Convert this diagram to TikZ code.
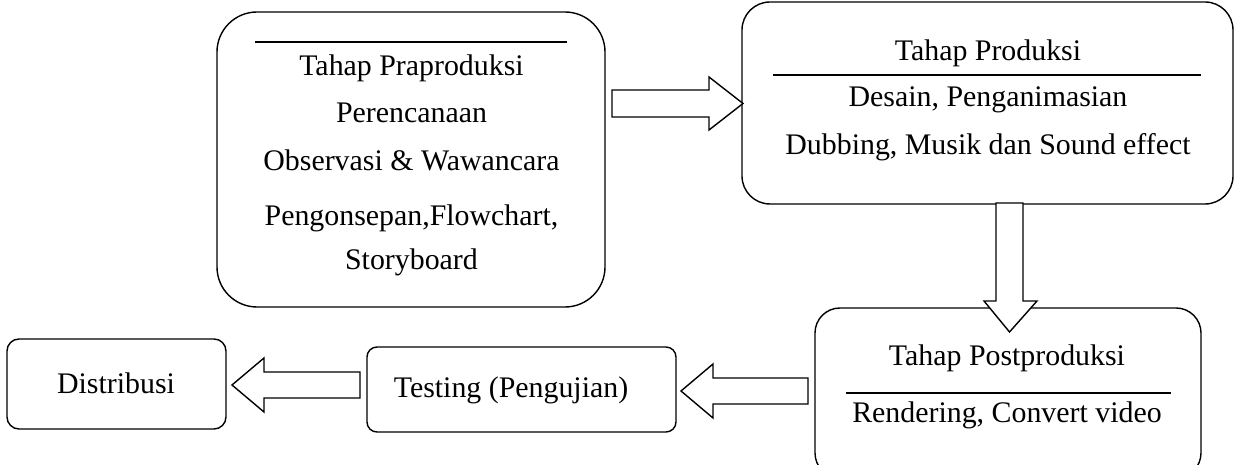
\documentclass[tikz,border=0pt]{standalone}
\usepackage{fontspec}
\setmainfont{Liberation Serif}
\begin{document}
\begin{tikzpicture}[line width=0.8pt, font=\fontsize{17}{20}\selectfont,
        box/.style = {draw, rectangle, inner sep=0pt},
        blockarrow/.style = {draw, fill=white, line join=miter}]
    \clip (0,0) rectangle (24.7,9.3);
    % boxes
    \node[box, rounded corners=0.8cm, minimum width=7.76cm, minimum height=5.9cm] (pra) at (8.22,6.11) {};
    \node[box, rounded corners=0.56cm, minimum width=9.82cm, minimum height=4.04cm] (prod) at (19.75,7.24) {};
    \node[box, rounded corners=0.5cm, minimum width=7.72cm, minimum height=3.4cm] (post) at (20.16,1.44) {};
    \node[box, rounded corners=0.2cm, minimum width=6.18cm, minimum height=1.7cm] (test) at (10.43,1.51) {};
    \node[box, rounded corners=0.24cm, minimum width=4.38cm, minimum height=1.8cm] (dist) at (2.33,1.62) {};
    % texts
    \node (pra1) at (8.23,7.94) {Tahap Praproduksi};
    \node (pra2) at (8.23,7.04) {Perencanaan};
    \node (pra3) at (8.23,6.10) {Observasi \& Wawancara};
    \node (pra4) at (8.23,4.94) {Pengonsepan,Flowchart,};
    \node (pra5) at (8.23,4.06) {Storyboard};
    \node (prod1) at (19.76,8.24) {Tahap Produksi};
    \node (prod2) at (19.76,7.30) {Desain, Penganimasian};
    \node (prod3) at (19.76,6.36) {Dubbing, Musik dan Sound effect};
    \node (post1) at (20.14,2.14) {Tahap Postproduksi};
    \node (post2) at (20.14,1.00) {Rendering, Convert video};
    \node (test1) at (10.22,1.50) {Testing (Pengujian)};
    \node (dist1) at (2.32,1.64) {Distribusi};
    % rules
    \draw (5.10,8.46) -- (11.34,8.46);
    \draw (15.46,7.80) -- (24.02,7.80);
    \draw (16.92,1.44) -- (23.42,1.44);
    % block arrows
    \draw[blockarrow] (12.24,7.50) -- (14.18,7.50) -- (14.18,7.76) -- (14.86,7.23)
        -- (14.18,6.70) -- (14.18,6.96) -- (12.24,6.96) -- cycle;
    \draw[blockarrow] (19.92,5.24) -- (19.92,3.28) -- (19.68,3.28) -- (20.19,2.66)
        -- (20.74,3.28) -- (20.46,3.28) -- (20.46,5.24) -- cycle;
    \draw[blockarrow] (16.16,1.74) -- (14.26,1.74) -- (14.26,2.02) -- (13.62,1.48)
        -- (14.26,0.94) -- (14.26,1.22) -- (16.16,1.22) -- cycle;
    \draw[blockarrow] (7.20,1.86) -- (5.28,1.86) -- (5.28,2.14) -- (4.64,1.60)
        -- (5.28,1.06) -- (5.28,1.34) -- (7.20,1.34) -- cycle;
\end{tikzpicture}
\end{document}
